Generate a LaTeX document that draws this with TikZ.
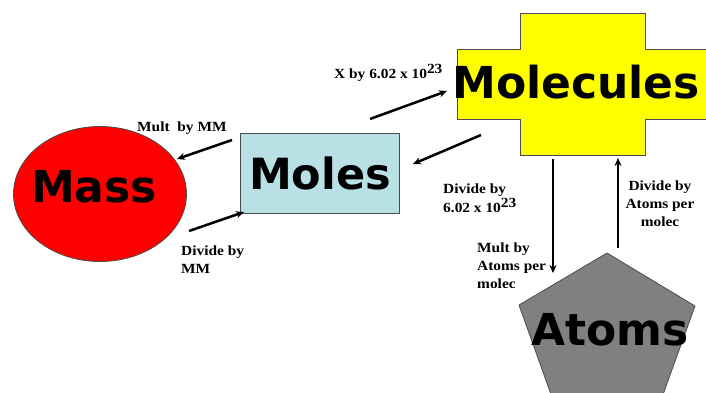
\documentclass[tikz,border=0pt]{standalone}
\usepackage{fontspec}
\setmainfont{Liberation Serif}
\newfontfamily\heavyfont{DejaVu Sans}
\newfontfamily\lblfont[FakeStretch=1.1]{Liberation Serif}
\usetikzlibrary{arrows.meta, shapes.geometric}
\definecolor{massred}{RGB}{255, 0, 0}
\definecolor{molesblue}{RGB}{184, 224, 229}
\definecolor{molecyellow}{RGB}{255, 255, 0}
\definecolor{atomgray}{RGB}{128, 128, 128}

\begin{document}
\begin{tikzpicture}[x=1pt, y=-1pt,
        big/.style={font=\heavyfont\bfseries\fontsize{44}{48}\selectfont,
                    inner sep=0pt},
        lbl/.style={font=\lblfont\bfseries\fontsize{14}{18}\selectfont,
                    inner sep=0pt, align=left},
        shp/.style={draw=black!70, line width=0.8pt},
        arr/.style={line width=2.5pt, -{Stealth[length=8pt, width=7pt]}}
    ]
    \clip (0, 0) rectangle (706, 392);
    \fill[white] (0, 0) rectangle (706, 392);

    % shapes
    \node[shp, ellipse, fill=massred, minimum width=173pt,
          minimum height=135pt] (mass) at (100, 194) {};
    \node[big] (masstxt) at (94, 202) [anchor=base] {Mass};

    \node[shp, fill=molesblue, minimum width=159pt, minimum height=80pt,
          font=\heavyfont\bfseries\fontsize{43}{48}\selectfont, inner sep=0pt]
        (moles) at (320, 173) {Moles};

    \draw[shp, fill=molecyellow] (520, 13) -- (645, 13) -- (645, 49)
        -- (708, 49) -- (708, 119) -- (645, 119) -- (645, 155)
        -- (520, 155) -- (520, 119) -- (457, 119) -- (457, 49)
        -- (520, 49) -- cycle;
    \node[big, anchor=base] (molecules) at (576, 98) {Molecules};

    \draw[shp, fill=atomgray] (607, 253) -- (695, 306) -- (661, 400)
        -- (553, 400) -- (519, 305) -- cycle;
    \node[big, anchor=base] (atoms) at (610, 345) {Atoms};

    % arrow ends
    \coordinate (mm1) at (232, 140);
    \coordinate (mm2) at (177, 159);
    \coordinate (dm1) at (189, 231);
    \coordinate (dm2) at (244, 212);
    \coordinate (xa1) at (370, 119);
    \coordinate (xa2) at (447, 91);
    \coordinate (da1) at (481, 135);
    \coordinate (da2) at (413, 164);
    \coordinate (ma1) at (553, 159);
    \coordinate (ma2) at (553, 273);
    \coordinate (dp1) at (618, 248);
    \coordinate (dp2) at (618, 158);

    \draw[arr] (mm1) -- (mm2);
    \draw[arr] (dm1) -- (dm2);
    \draw[arr] (xa1) -- (xa2);
    \draw[arr] (da1) -- (da2);
    \draw[arr] (ma1) -- (ma2);
    \draw[arr] (dp1) -- (dp2);

    % labels (base = last line)
    \node[lbl, anchor=base west] (multmm) at (137, 131)
        {Mult\ \ by MM};
    \node[lbl, anchor=base west] (divmm) at (181, 273)
        {Divide by\\MM};
    \node[lbl, anchor=base west] (xavo) at (334, 78)
        {X by 6.02 x 10\raisebox{5pt}{23}};
    \node[lbl, anchor=base west] (divavo) at (443, 212)
        {Divide by\\[1pt]6.02 x 10\raisebox{5pt}{23}};
    \node[lbl, anchor=base west] (multapm) at (477, 288)
        {Mult by\\Atoms per\\molec};
    \node[lbl, anchor=base, align=center] (divapm) at (660, 226)
        {Divide by\\Atoms per\\molec};

\end{tikzpicture}
\end{document}
